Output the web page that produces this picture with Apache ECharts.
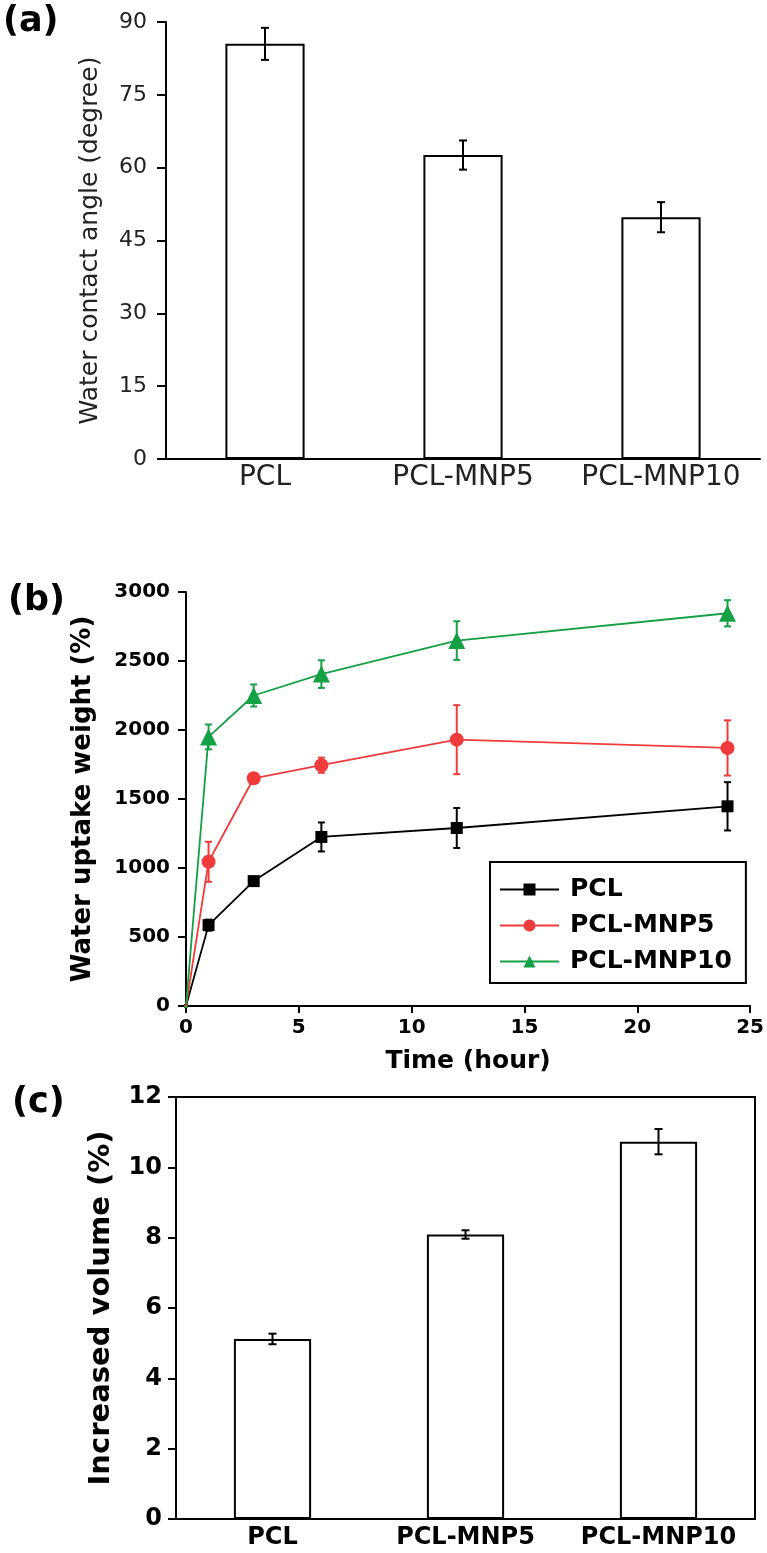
<!DOCTYPE html>
<html>
<head>
<meta charset="utf-8">
<script src="https://cdn.jsdelivr.net/npm/echarts@6/dist/echarts.min.js"></script>
<style>
html,body{margin:0;padding:0;background:#fff;}
#chart{width:767px;height:1553px;}
</style>
</head>
<body>
<div id="chart"></div>
<script>
// ---------- Data ----------
// (a) water contact angle
const aCategories = ['PCL', 'PCL-MNP5', 'PCL-MNP10'];
const aValues = [85.5, 62.6, 49.8];
const aErrors = [3.3, 3.0, 3.1];
const aAxis = [0, 90, 15]; // min, max, interval

// (b) water uptake weight over time
const bTime = [0, 1, 3, 6, 12, 24];
const bPCL = [0, 586, 905, 1225, 1290, 1447];
const bPCLErr = [0, 40, 25, 105, 145, 175];
const bMNP5 = [0, 1045, 1650, 1745, 1930, 1870];
const bMNP5Err = [0, 145, 30, 55, 250, 200];
const bMNP10 = [0, 1950, 2250, 2405, 2648, 2846];
const bMNP10Err = [0, 90, 80, 100, 140, 95];
const bSeriesNames = ['PCL', 'PCL-MNP5', 'PCL-MNP10'];
const bXAxis = [0, 25, 5];
const bYAxis = [0, 3000, 500];

// (c) increased volume
const cCategories = ['PCL', 'PCL-MNP5', 'PCL-MNP10'];
const cValues = [5.12, 8.09, 10.73];
const cErrors = [0.15, 0.12, 0.36];
const cAxis = [0, 12, 2];

// ---------- Helpers ----------
function errRender(color, cap, lw) {
  return function (params, api) {
    const x = api.value(0), y = api.value(1), e = api.value(2);
    if (!e) return null;
    const top = api.coord([x, y + e]);
    const bot = api.coord([x, y - e]);
    const w = cap / 2;
    const st = { stroke: color, lineWidth: lw };
    return {
      type: 'group',
      children: [
        { type: 'line', shape: { x1: top[0], y1: top[1], x2: bot[0], y2: bot[1] }, style: st },
        { type: 'line', shape: { x1: top[0] - w, y1: top[1], x2: top[0] + w, y2: top[1] }, style: st },
        { type: 'line', shape: { x1: bot[0] - w, y1: bot[1], x2: bot[0] + w, y2: bot[1] }, style: st }
      ]
    };
  };
}
function zip3(x, v, e) { return x.map((xi, i) => [xi, v[i], e[i]]); }
function idxZip(v, e) { return v.map((vi, i) => [i, vi, e[i]]); }
function plain(v) { return String(v); }

const colors = ['#000000', '#ef3b3b', '#14a044'];
const symbols = ['rect', 'circle', 'triangle'];
const symbolSizes = [12, 14, 17];
const bVals = [bPCL, bMNP5, bMNP10];
const bErrs = [bPCLErr, bMNP5Err, bMNP10Err];

const FONT = 'DejaVu Sans';

const chart = echarts.init(document.getElementById('chart'), null, { renderer: 'canvas' });

const series = [];
// (a)
series.push({
  name: 'Water contact angle', type: 'bar', xAxisIndex: 0, yAxisIndex: 0,
  data: aValues, barWidth: '40%',
  itemStyle: { color: '#ffffff', borderColor: '#000', borderWidth: 2 },
  silent: true
});
series.push({
  name: 'Water contact angle error', type: 'custom', xAxisIndex: 0, yAxisIndex: 0,
  data: idxZip(aValues, aErrors), renderItem: errRender('#000', 8, 2), z: 3, silent: true
});
// (b)
for (let i = 0; i < 3; i++) {
  series.push({
    name: bSeriesNames[i] + ' error', type: 'custom', xAxisIndex: 1, yAxisIndex: 1,
    data: zip3(bTime, bVals[i], bErrs[i]), renderItem: errRender(colors[i], 7, 2), z: 1, silent: true
  });
}
for (let i = 0; i < 3; i++) {
  series.push({
    name: bSeriesNames[i], type: 'line', xAxisIndex: 1, yAxisIndex: 1,
    data: bTime.map((t, j) => [t, bVals[i][j]]),
    symbol: symbols[i],
    symbolSize: (function (s) { return function (v, p) { return p.dataIndex === 0 ? 4 : s; }; })(symbolSizes[i]),
    lineStyle: { color: colors[i], width: 1.8 },
    itemStyle: { color: colors[i] },
    z: 2, silent: true
  });
}
// (c)
series.push({
  name: 'Increased volume', type: 'bar', xAxisIndex: 2, yAxisIndex: 2,
  data: cValues, barWidth: '40%',
  itemStyle: { color: '#ffffff', borderColor: '#000', borderWidth: 2 },
  silent: true
});
series.push({
  name: 'Increased volume error', type: 'custom', xAxisIndex: 2, yAxisIndex: 2,
  data: idxZip(cValues, cErrors), renderItem: errRender('#000', 8, 2), z: 3, silent: true
});

const axisLineStyle = { color: '#000', width: 2 };

const option = {
  animation: false,
  backgroundColor: '#ffffff',
  grid: [
    { left: 166, top: 22, width: 594, height: 437 },
    { left: 186, top: 592, width: 565, height: 414 },
    { left: 176, top: 1097, width: 579, height: 422, show: true, borderColor: '#000', borderWidth: 2, backgroundColor: 'transparent' }
  ],
  xAxis: [
    {
      gridIndex: 0, type: 'category', data: aCategories,
      axisLine: { lineStyle: axisLineStyle }, axisTick: { show: false },
      axisLabel: { interval: 0, fontFamily: FONT, fontSize: 28, color: '#222', margin: 5 }
    },
    {
      gridIndex: 1, type: 'value', min: bXAxis[0], max: bXAxis[1], interval: bXAxis[2],
      name: 'Time (hour)', nameLocation: 'middle', nameGap: 43,
      nameTextStyle: { fontFamily: FONT, fontWeight: 'bold', fontSize: 25, color: '#000' },
      axisLine: { lineStyle: axisLineStyle },
      axisTick: { inside: false, length: 7, lineStyle: { color: '#000', width: 2 } },
      axisLabel: { fontFamily: FONT, fontWeight: 'bold', fontSize: 20, color: '#000', margin: 12, formatter: plain },
      splitLine: { show: false }
    },
    {
      gridIndex: 2, type: 'category', data: cCategories,
      axisLine: { lineStyle: axisLineStyle }, axisTick: { show: false },
      axisLabel: { interval: 0, fontFamily: FONT, fontWeight: 'bold', fontSize: 24, color: '#000', margin: 7 }
    }
  ],
  yAxis: [
    {
      gridIndex: 0, type: 'value', min: aAxis[0], max: aAxis[1], interval: aAxis[2],
      name: 'Water contact angle (degree)', nameLocation: 'middle', nameGap: 63,
      nameTextStyle: { fontFamily: FONT, fontSize: 25, color: '#222' },
      axisLine: { show: true, lineStyle: axisLineStyle },
      axisTick: { show: true, length: 9, lineStyle: { color: '#000', width: 2 } },
      axisLabel: { fontFamily: FONT, fontSize: 22, color: '#222', margin: 19, formatter: plain },
      splitLine: { show: false }
    },
    {
      gridIndex: 1, type: 'value', min: bYAxis[0], max: bYAxis[1], interval: bYAxis[2],
      name: 'Water uptake weight (%)', nameLocation: 'middle', nameGap: 90,
      nameTextStyle: { fontFamily: FONT, fontWeight: 'bold', fontSize: 26, color: '#000' },
      axisLine: { show: true, lineStyle: axisLineStyle },
      axisTick: { show: true, length: 8, lineStyle: { color: '#000', width: 2 } },
      axisLabel: { fontFamily: FONT, fontWeight: 'bold', fontSize: 20, color: '#000', margin: 16, formatter: plain },
      splitLine: { show: false }
    },
    {
      gridIndex: 2, type: 'value', min: cAxis[0], max: cAxis[1], interval: cAxis[2],
      name: 'Increased volume (%)', nameLocation: 'middle', nameGap: 60,
      nameTextStyle: { fontFamily: FONT, fontWeight: 'bold', fontSize: 29, color: '#000' },
      axisLine: { show: true, lineStyle: axisLineStyle },
      axisTick: { show: true, length: 8, lineStyle: { color: '#000', width: 2 } },
      axisLabel: { fontFamily: FONT, fontWeight: 'bold', fontSize: 24, color: '#000', margin: 14, formatter: plain },
      splitLine: { show: false }
    }
  ],
  legend: {
    data: bSeriesNames,
    orient: 'vertical',
    left: 490, top: 862,
    padding: [15, 14, 9, 9],
    itemGap: 11,
    itemWidth: 59, itemHeight: 15,
    borderColor: '#000', borderWidth: 2,
    backgroundColor: '#fff',
    textStyle: { fontFamily: FONT, fontWeight: 'bold', fontSize: 25, color: '#000', padding: [0, 0, 0, 6] },
    selectedMode: false
  },
  graphic: [
    { type: 'text', left: 3, top: 4, style: { text: '(a)', font: 'bold 35px "DejaVu Sans"', fill: '#000' } },
    { type: 'text', left: 8, top: 583, style: { text: '(b)', font: 'bold 35px "DejaVu Sans"', fill: '#000' } },
    { type: 'text', left: 12, top: 1085, style: { text: '(c)', font: 'bold 35px "DejaVu Sans"', fill: '#000' } }
  ],
  series: series
};
chart.setOption(option);
</script>
</body>
</html>
